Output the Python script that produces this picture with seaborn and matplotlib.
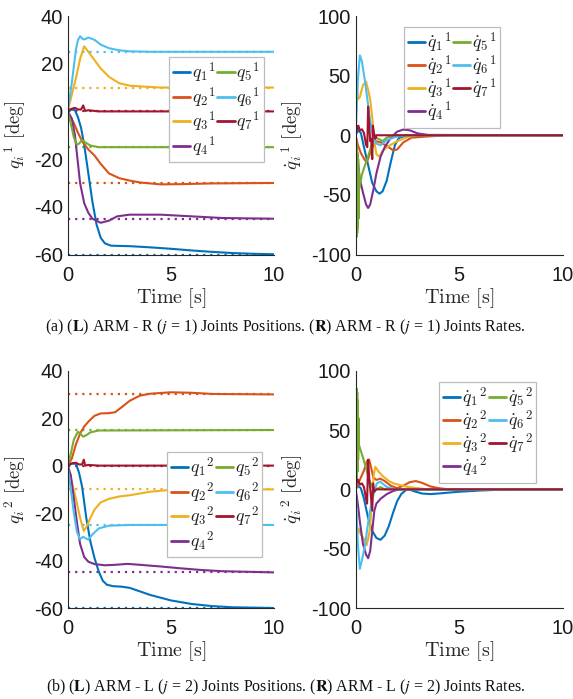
import numpy as np
import pandas as pd
import matplotlib
matplotlib.use("Agg")
import matplotlib.pyplot as plt
import seaborn as sns
from matplotlib.lines import Line2D

sns.set_theme(style="white")
plt.rcParams['font.family'] = ['Liberation Sans', 'DejaVu Sans']
plt.rcParams['path.simplify'] = False

JOINTS = ["1", "2", "3", "4", "5", "6", "7"]
COLORS = ["#0072BD", "#D95319", "#EDB120", "#7E2F8E", "#77AC30", "#4DBEEE", "#A2142F"]

# Joint set-points (deg)
TARGETS_R = [-60, -30, 10, -45, -15, 25, 0]
TARGETS_L = [-60, 30, -10, -45, 15, -25, 0]

POS_TICKS = [-60, -40, -20, 0, 20, 40]
RATE_TICKS = [-100, -50, 0, 50, 100]
TIME_TICKS = [0, 5, 10]

# ---- Right arm (j = 1): joint positions, (time [s], angle [deg]) ----
pos_r_q1 = [(0, 0), (0.2, 0.8), (0.35, 0.5), (0.5, -2.5), (0.65, -7), (0.8, -14), (1.0, -26), (1.2, -38),
            (1.4, -47.5), (1.6, -53), (1.8, -55.3), (2.1, -56.3), (2.5, -56.4), (3.0, -56.5), (4.0, -57),
            (5.0, -57.6), (6.0, -58.3), (7.0, -58.9), (8.0, -59.4), (9.0, -59.7), (10, -59.9)]
pos_r_q2 = [(0, 0), (0.3, -5), (0.5, -9), (0.7, -12.5), (1.0, -16), (1.3, -18.5), (1.6, -22), (2.0, -26),
            (2.5, -28), (3.0, -29), (3.5, -29.8), (4.5, -30.6), (5.5, -30.5), (7, -30.2), (10, -30)]
pos_r_q3 = [(0, 0), (0.2, 7), (0.4, 14), (0.6, 22), (0.8, 27.3), (1.0, 25), (1.3, 21.5), (1.6, 18),
            (2.0, 14.5), (2.5, 11.8), (3.0, 10.8), (3.5, 10.5), (4.5, 10), (10, 10)]
pos_r_q4 = [(0, 0), (0.2, -3), (0.35, -10), (0.45, -18), (0.6, -30), (0.8, -38.5), (1.0, -42.5), (1.2, -45),
            (1.6, -46.7), (2.0, -45.8), (2.4, -44), (3.0, -43.3), (4.5, -43.3), (6.0, -44), (7.5, -44.7),
            (10, -45)]
pos_r_q5 = [(0, 0), (0.15, -5), (0.3, -11), (0.45, -14), (0.55, -13.5), (0.7, -12), (0.85, -13),
            (1.1, -14.3), (1.5, -15), (10, -15)]
pos_r_q6 = [(0, 0), (0.2, 12), (0.4, 26), (0.5, 30), (0.6, 31.5), (0.75, 30.2), (0.85, 30.3), (1.0, 31),
            (1.3, 30), (1.6, 28), (2.0, 26.5), (2.5, 25.6), (3.0, 25.2), (4.0, 25), (10, 25)]
pos_r_q7 = [(0, 0), (0.15, 1), (0.35, 1.5), (0.5, 0.8), (0.65, 0.8), (0.75, 2.5), (0.85, 0.2), (1.0, 0.5),
            (1.5, 0), (10, 0)]

# ---- Right arm (j = 1): joint rates ----
rate_r_q1 = [(0, 0), (0.1, 4), (0.25, 2), (0.4, -10), (0.6, -25), (0.8, -40), (1.0, -47), (1.15, -49),
             (1.3, -47), (1.5, -38), (1.7, -22), (1.9, -8), (2.1, -2), (2.5, 0), (10, 0)]
rate_r_q2 = [(0, 0), (0.1, -8), (0.25, -15), (0.45, -21), (0.55, -22), (0.7, -15), (0.85, -8), (1.0, -5),
             (1.2, -6), (1.5, -9), (1.8, -12.5), (2.0, -12), (2.3, -6), (2.7, -2), (3.5, -1), (4.5, 0), (10, 0)]
rate_r_q3 = [(0, 0), (0.01, 58), (0.05, 45), (0.1, 30), (0.2, 32), (0.35, 42), (0.5, 45), (0.6, 38),
             (0.7, 30), (0.8, 15), (0.9, -5), (1.0, -16), (1.15, -18), (1.3, -13), (1.6, -9), (2.0, -5),
             (2.5, -1.5), (3.0, 0), (10, 0)]
rate_r_q4 = [(0, 0), (0.1, -20), (0.2, -37), (0.35, -48), (0.5, -58), (0.6, -61), (0.7, -58), (0.85, -46),
             (1.0, -32), (1.2, -18), (1.4, -10), (1.7, -2), (2.0, 3), (2.3, 4.8), (2.6, 4.2), (3.0, 1.5),
             (3.5, 0.3), (10, 0)]
rate_r_q5 = [(0, 0), (0.015, -60), (0.03, -5), (0.045, -85), (0.06, -10), (0.075, -82), (0.09, -15),
             (0.105, -78), (0.12, -20), (0.135, -70), (0.15, -30), (0.17, -45), (0.3, -33), (0.45, -25),
             (0.6, -18), (0.8, -6), (0.95, -2), (1.1, -3), (1.3, -5), (1.5, -2), (1.8, 0), (10, 0)]
rate_r_q6 = [(0, 0), (0.1, 45), (0.2, 67), (0.3, 62), (0.45, 45), (0.55, 32), (0.7, 12), (0.85, -2),
             (1.0, -7), (1.2, -8.4), (1.5, -4), (2.0, -1), (2.5, 0), (10, 0)]
rate_r_q7 = [(0, 0), (0.03, 8), (0.08, 5), (0.13, 8), (0.2, 4), (0.3, 5), (0.4, 2), (0.5, -8), (0.56, -10),
             (0.6, 24), (0.65, 10), (0.7, -5), (0.75, -3), (0.8, -20), (0.83, 8), (0.88, 2), (0.95, -3),
             (1.0, 0), (10, 0)]

# ---- Left arm (j = 2): joint positions ----
pos_l_q1 = [(0, 0), (0.2, 0.8), (0.4, 0.8), (0.55, -3), (0.7, -9), (0.9, -22), (1.1, -32), (1.3, -39),
            (1.5, -44.5), (1.7, -48.5), (1.9, -50.2), (2.2, -50.8), (2.6, -51), (3.0, -51.5), (3.5, -53),
            (4.0, -54.5), (5.0, -56.8), (6.0, -58.3), (7.0, -59.2), (8.0, -59.7), (10, -60)]
pos_l_q2 = [(0, 0), (0.2, 3), (0.4, 9), (0.6, 13.5), (0.8, 16.5), (1.0, 18.5), (1.3, 21), (1.6, 22),
            (2.0, 22.1), (2.3, 22.5), (2.6, 24.5), (3.0, 27.3), (3.5, 29.5), (4.0, 30.3), (5.0, 30.9),
            (6.0, 30.7), (7.0, 30.2), (10, 30)]
pos_l_q3 = [(0, 0), (0.2, -7), (0.4, -14), (0.6, -22), (0.78, -27.5), (0.9, -26), (1.1, -22), (1.3, -18.5),
            (1.6, -15.5), (2.0, -14), (2.5, -13), (3.0, -12.5), (4.0, -11), (5.0, -10.2), (6.0, -10), (10, -10)]
pos_l_q4 = [(0, 0), (0.15, -4), (0.3, -14), (0.45, -24), (0.6, -33), (0.8, -38.5), (1.0, -40.5), (1.3, -41.5),
            (1.8, -42), (2.3, -41.8), (2.9, -41.4), (3.5, -41.8), (4.5, -42.5), (5.5, -43.3), (6.5, -44),
            (7.5, -44.5), (10, -45)]
pos_l_q5 = [(0, 0), (0.15, 5), (0.3, 11), (0.5, 14.3), (0.6, 13.5), (0.75, 12.2), (0.9, 12.8), (1.1, 14),
            (1.5, 14.8), (10, 15)]
pos_l_q6 = [(0, 0), (0.15, -10), (0.3, -20), (0.45, -28), (0.6, -31), (0.75, -30), (0.85, -30.5),
            (1.0, -31.2), (1.2, -29), (1.5, -26.5), (2.0, -25.3), (3.0, -25), (10, -25)]
pos_l_q7 = [(0, 0), (0.2, 1), (0.4, 1.2), (0.55, 0.5), (0.7, 0.5), (0.78, 2.5), (0.85, 0), (1.0, 0.3),
            (1.5, 0), (10, 0)]

# ---- Left arm (j = 2): joint rates ----
rate_l_q1 = [(0, 0), (0.1, 3), (0.25, 1), (0.4, -8), (0.6, -24), (0.8, -35), (1.0, -41), (1.2, -42.5),
             (1.4, -39), (1.6, -31), (1.8, -20), (2.0, -10), (2.2, -4), (2.5, 0.5), (2.8, -1.5), (3.2, -3.5),
             (3.6, -4), (4.0, -3.5), (5.0, -2), (6.0, -1), (7.0, -0.3), (10, 0)]
rate_l_q2 = [(0, 0), (0.2, 8), (0.4, 16), (0.55, 24), (0.65, 25), (0.75, 18), (0.85, 10), (1.0, 8),
             (1.2, 9), (1.4, 7), (1.7, 3), (2.0, 1), (2.3, 3), (2.6, 6), (2.9, 7), (3.2, 5.5), (3.6, 2.5),
             (4.0, 1), (4.5, 0), (10, 0)]
rate_l_q3 = [(0, 0), (0.01, -57), (0.05, -40), (0.13, -33), (0.25, -38), (0.37, -41), (0.53, -47),
             (0.62, -40), (0.69, -33), (0.78, -10), (0.87, 12), (0.95, 19), (1.1, 15), (1.34, 10.7),
             (1.6, 7), (1.83, 5), (2.47, 2.2), (3.0, 1), (3.5, 0), (10, 0)]
rate_l_q4 = [(0, 0), (0.1, -12), (0.2, -27), (0.35, -46), (0.5, -55), (0.6, -58), (0.7, -52), (0.8, -35),
             (0.9, -18), (1.0, -12), (1.2, -8), (1.5, -4), (1.8, -1.5), (2.1, 0), (10, 0)]
rate_l_q5 = [(0, 0), (0.015, 60), (0.03, 5), (0.045, 85), (0.06, 10), (0.075, 82), (0.09, 15), (0.105, 75),
             (0.12, 25), (0.135, 60), (0.15, 38), (0.2, 35), (0.35, 27), (0.5, 18), (0.65, 8), (0.8, 2),
             (1.0, 0), (1.2, 2), (1.4, 0), (10, 0)]
rate_l_q6 = [(0, 0), (0.1, -45), (0.2, -67), (0.3, -60), (0.45, -47), (0.61, -27), (0.75, -12), (0.85, -5),
             (1.02, 5), (1.18, 6.5), (1.5, 2), (1.9, 0), (10, 0)]
rate_l_q7 = [(0, 0), (0.03, 9), (0.08, 6), (0.12, 8), (0.2, 4), (0.3, 5), (0.4, 2), (0.5, -8), (0.55, -12),
             (0.6, 25), (0.66, 8), (0.72, -3), (0.8, -18), (0.84, 5), (0.9, -2), (1.0, 0), (10, 0)]

POS_R = [pos_r_q1, pos_r_q2, pos_r_q3, pos_r_q4, pos_r_q5, pos_r_q6, pos_r_q7]
RATE_R = [rate_r_q1, rate_r_q2, rate_r_q3, rate_r_q4, rate_r_q5, rate_r_q6, rate_r_q7]
POS_L = [pos_l_q1, pos_l_q2, pos_l_q3, pos_l_q4, pos_l_q5, pos_l_q6, pos_l_q7]
RATE_L = [rate_l_q1, rate_l_q2, rate_l_q3, rate_l_q4, rate_l_q5, rate_l_q6, rate_l_q7]

W, H = 573, 699
fig = plt.figure(figsize=(W / 100, H / 100), dpi=100)
fig.patch.set_facecolor("white")


def px_axes(x0, y0, x1, y1):
    """Axes from pixel box (left, top, right, bottom)."""
    return fig.add_axes([x0 / W, 1 - y1 / H, (x1 - x0) / W, (y1 - y0) / H])


def to_frame(series):
    frames = []
    for name, pts in zip(JOINTS, series):
        arr = np.asarray(pts, dtype=float)
        frames.append(pd.DataFrame({"t": arr[:, 0], "v": arr[:, 1], "joint": name}))
    return pd.concat(frames, ignore_index=True)


def draw_panel(ax, series, yticks, ylabel, targets=None):
    df = to_frame(series)
    if targets is not None:
        for val, c in zip(targets, COLORS):
            ax.axhline(val, color=c, ls=(0, (1, 2.2)), lw=1.6, zorder=1)
    sns.lineplot(data=df, x="t", y="v", hue="joint", palette=COLORS, estimator=None,
                 sort=True, lw=1.5, ax=ax, legend=False, zorder=2)
    ax.set_xlim(0, 10)
    ax.set_ylim(yticks[0], yticks[-1])
    ax.set_xticks(TIME_TICKS)
    ax.set_yticks(yticks)
    ax.set_xticklabels([str(t) for t in TIME_TICKS])
    ax.set_yticklabels([str(t) for t in yticks])
    for side in ("top", "right"):
        ax.spines[side].set_visible(False)
    for side in ("left", "bottom"):
        ax.spines[side].set_color("#262626")
        ax.spines[side].set_linewidth(0.8)
    ax.tick_params(direction="in", length=3.5, width=0.8, colors="#262626",
                   labelsize=14.5, labelcolor="#1a1a1a")
    ax.tick_params(axis="y", pad=3.5)
    ax.tick_params(axis="x", pad=8)
    ax.set_xlabel(r"$\mathrm{Time\ [s]}$", fontsize=14.5, math_fontfamily="cm")
    h_px = ax.get_position().height * H
    ax.xaxis.set_label_coords(0.5, -31.5 / h_px)
    ax.set_ylabel(ylabel, fontsize=13.5, math_fontfamily="cm", labelpad=4)
    ax.set_facecolor("white")


def add_legend(labels, left, top, spacing):
    handles = [Line2D([], [], color=c, lw=2) for c in COLORS]
    leg = fig.legend(handles, labels, ncol=2, loc="upper left",
                     bbox_to_anchor=(left / W, 1 - top / H), bbox_transform=fig.transFigure,
                     prop={"size": 13, "math_fontfamily": "cm"}, frameon=True, fancybox=False,
                     framealpha=1, edgecolor="#bdbdbd", borderaxespad=0, borderpad=0.2,
                     handlelength=0.95, handletextpad=0.1, columnspacing=0.12, labelspacing=spacing)
    leg.get_frame().set_linewidth(0.9)
    return leg


ax_pr = px_axes(67.7, 16, 274, 254.5)
ax_rr = px_axes(355.7, 16, 562.7, 254.5)
ax_pl = px_axes(67.7, 370.7, 274, 608)
ax_rl = px_axes(355.7, 370.7, 562.7, 608)

draw_panel(ax_pr, POS_R, POS_TICKS, r"${q_i}^{\,1}\ \mathrm{[deg]}$", TARGETS_R)
draw_panel(ax_rr, RATE_R, RATE_TICKS, r"${\dot{q}_i}^{\,1}\ \mathrm{[deg]}$")
draw_panel(ax_pl, POS_L, POS_TICKS, r"${q_i}^{\,2}\ \mathrm{[deg]}$", TARGETS_L)
draw_panel(ax_rl, RATE_L, RATE_TICKS, r"${\dot{q}_i}^{\,2}\ \mathrm{[deg]}$")

add_legend([r"${q_%s}^{1}$" % j for j in JOINTS], 169, 57, 0.0)
add_legend([r"${\dot{q}_%s}^{1}$" % j for j in JOINTS], 404, 27, -0.08)
add_legend([r"${q_%s}^{2}$" % j for j in JOINTS], 167, 452, 0.0)
add_legend([r"${\dot{q}_%s}^{2}$" % j for j in JOINTS], 439, 382, -0.08)

cap_kw = dict(ha="center", va="center", fontsize=11.5, family=["Liberation Serif", "DejaVu Serif"],
              math_fontfamily="stix", color="#111111")
fig.text(285.5 / W, 1 - 327 / H,
         r"(a) ($\mathbf{L}$) ARM - R ($j$ = 1) Joints Positions. "
         r"($\mathbf{R}$) ARM - R ($j$ = 1) Joints Rates.", **cap_kw)
fig.text(285.5 / W, 1 - 687 / H,
         r"(b) ($\mathbf{L}$) ARM - L ($j$ = 2) Joints Positions. "
         r"($\mathbf{R}$) ARM - L ($j$ = 2) Joints Rates.", **cap_kw)

fig.savefig("out.png", dpi=100, facecolor="white")
